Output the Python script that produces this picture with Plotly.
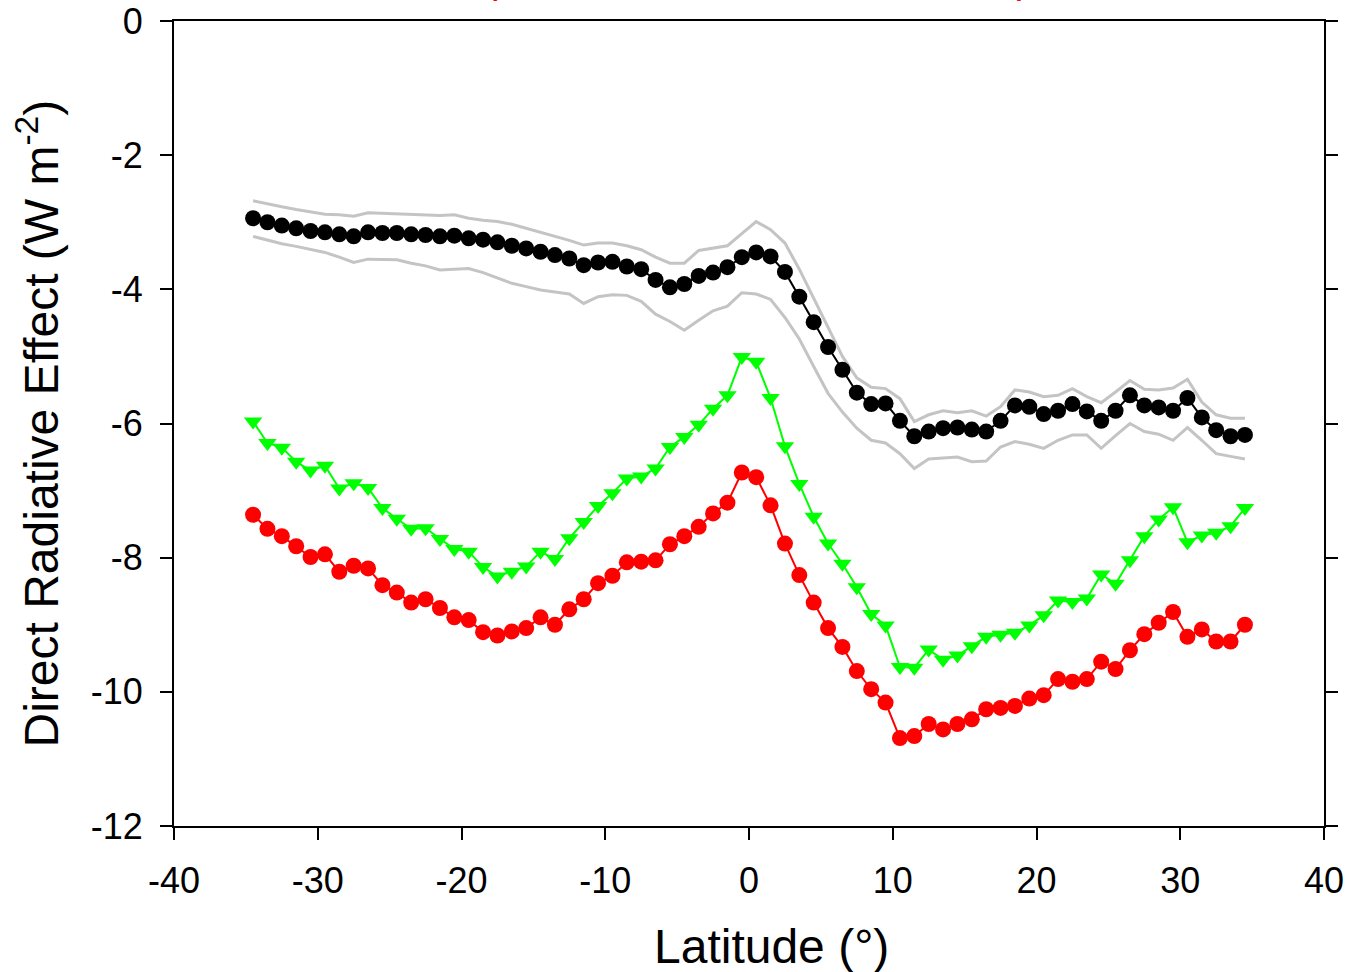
import plotly.graph_objects as go

lat = [-34.5, -33.5, -32.5, -31.5, -30.5, -29.5, -28.5, -27.5, -26.5, -25.5,
       -24.5, -23.5, -22.5, -21.5, -20.5, -19.5, -18.5, -17.5, -16.5, -15.5,
       -14.5, -13.5, -12.5, -11.5, -10.5, -9.5, -8.5, -7.5, -6.5, -5.5,
       -4.5, -3.5, -2.5, -1.5, -0.5, 0.5, 1.5, 2.5, 3.5, 4.5,
       5.5, 6.5, 7.5, 8.5, 9.5, 10.5, 11.5, 12.5, 13.5, 14.5,
       15.5, 16.5, 17.5, 18.5, 19.5, 20.5, 21.5, 22.5, 23.5, 24.5,
       25.5, 26.5, 27.5, 28.5, 29.5, 30.5, 31.5, 32.5, 33.5, 34.5]

black_mean = [-2.94, -3.00, -3.05, -3.09, -3.13, -3.15, -3.18, -3.21, -3.15, -3.16,
              -3.16, -3.18, -3.19, -3.21, -3.20, -3.24, -3.26, -3.30, -3.35, -3.39,
              -3.44, -3.49, -3.54, -3.64, -3.60, -3.59, -3.66, -3.70, -3.86, -3.97,
              -3.92, -3.80, -3.75, -3.67, -3.52, -3.45, -3.51, -3.74, -4.11, -4.49,
              -4.86, -5.20, -5.54, -5.71, -5.70, -5.96, -6.19, -6.12, -6.07, -6.06,
              -6.09, -6.12, -5.96, -5.73, -5.75, -5.86, -5.81, -5.71, -5.82, -5.96,
              -5.81, -5.58, -5.73, -5.76, -5.81, -5.62, -5.91, -6.10, -6.19, -6.17]

gray_upper = [-2.68, -2.73, -2.77, -2.81, -2.84, -2.88, -2.89, -2.91, -2.86, -2.87,
              -2.87, -2.88, -2.90, -2.90, -2.89, -2.94, -2.97, -2.99, -3.03, -3.09,
              -3.14, -3.20, -3.27, -3.34, -3.31, -3.31, -3.35, -3.41, -3.52, -3.61,
              -3.61, -3.42, -3.39, -3.35, -3.17, -2.99, -3.11, -3.31, -3.70, -4.13,
              -4.55, -5.00, -5.32, -5.46, -5.48, -5.63, -5.97, -5.87, -5.81, -5.84,
              -5.81, -5.89, -5.75, -5.50, -5.53, -5.60, -5.58, -5.48, -5.60, -5.69,
              -5.53, -5.36, -5.49, -5.50, -5.47, -5.34, -5.68, -5.87, -5.92, -5.92]

gray_lower = [-3.21, -3.27, -3.32, -3.36, -3.41, -3.45, -3.52, -3.60, -3.55, -3.55,
              -3.56, -3.61, -3.65, -3.71, -3.70, -3.69, -3.75, -3.83, -3.91, -3.96,
              -4.01, -4.04, -4.07, -4.21, -4.11, -4.08, -4.09, -4.18, -4.37, -4.48,
              -4.61, -4.46, -4.32, -4.25, -4.05, -4.07, -4.15, -4.42, -4.74, -5.15,
              -5.55, -5.83, -6.07, -6.25, -6.29, -6.45, -6.67, -6.53, -6.52, -6.50,
              -6.57, -6.56, -6.35, -6.27, -6.31, -6.37, -6.25, -6.17, -6.17, -6.37,
              -6.18, -6.00, -6.12, -6.16, -6.25, -6.06, -6.25, -6.45, -6.49, -6.53]

green_vals = [-5.97, -6.29, -6.36, -6.57, -6.70, -6.63, -6.97, -6.89, -6.96, -7.26,
              -7.42, -7.57, -7.56, -7.72, -7.87, -7.91, -8.14, -8.28, -8.21, -8.13,
              -7.91, -8.02, -7.71, -7.47, -7.23, -7.04, -6.82, -6.79, -6.67, -6.35,
              -6.20, -6.02, -5.78, -5.58, -5.01, -5.08, -5.62, -6.34, -6.90, -7.39,
              -7.79, -8.09, -8.44, -8.84, -9.01, -9.63, -9.64, -9.37, -9.52, -9.46,
              -9.32, -9.18, -9.15, -9.12, -9.01, -8.86, -8.64, -8.66, -8.61, -8.25,
              -8.39, -8.04, -7.68, -7.43, -7.25, -7.77, -7.67, -7.63, -7.53, -7.26]

red_vals = [-7.36, -7.57, -7.68, -7.83, -7.99, -7.95, -8.21, -8.12, -8.16, -8.41,
            -8.52, -8.67, -8.62, -8.75, -8.89, -8.93, -9.11, -9.16, -9.10, -9.05,
            -8.89, -9.00, -8.77, -8.62, -8.38, -8.27, -8.07, -8.06, -8.04, -7.80,
            -7.68, -7.54, -7.34, -7.18, -6.73, -6.80, -7.22, -7.79, -8.26, -8.67,
            -9.05, -9.33, -9.69, -9.96, -10.16, -10.69, -10.66, -10.48, -10.56, -10.48,
            -10.41, -10.26, -10.24, -10.21, -10.10, -10.05, -9.81, -9.85, -9.81, -9.55,
            -9.66, -9.38, -9.14, -8.97, -8.81, -9.18, -9.07, -9.25, -9.25, -9.00]

x_ticks = [-40, -30, -20, -10, 0, 10, 20, 30, 40]
x_ticktext = ["-40", "-30", "-20", "-10", "0", "10", "20", "30", "40"]
y_ticks = [0, -2, -4, -6, -8, -10, -12]
y_ticktext = ["0", "-2", "-4", "-6", "-8", "-10", "-12"]

FONT = "Liberation Sans, Arial, sans-serif"

fig = go.Figure()
fig.add_trace(go.Scatter(x=lat, y=gray_upper, mode="lines",
                         line=dict(color="#c4c4c4", width=3), showlegend=False))
fig.add_trace(go.Scatter(x=lat, y=gray_lower, mode="lines",
                         line=dict(color="#c4c4c4", width=3), showlegend=False))
fig.add_trace(go.Scatter(x=lat, y=black_mean, mode="lines+markers",
                         line=dict(color="black", width=2),
                         marker=dict(symbol="circle", size=16, color="black"),
                         showlegend=False))
fig.add_trace(go.Scatter(x=lat, y=green_vals, mode="lines+markers",
                         line=dict(color="#00ff00", width=2),
                         marker=dict(symbol="triangle-down", size=16, color="#00ff00"),
                         showlegend=False))
fig.add_trace(go.Scatter(x=lat, y=red_vals, mode="lines+markers",
                         line=dict(color="#ff0000", width=2),
                         marker=dict(symbol="circle", size=16, color="#ff0000"),
                         showlegend=False))

# red title, mostly above the top edge of the page
fig.add_annotation(text="(Mean Direct Radiative Effect)", xref="paper", yref="paper",
                   x=0.5, y=1.0105, xanchor="center", yanchor="bottom", xshift=8, yshift=9,
                   showarrow=False,
                   font=dict(family=FONT, size=41, color="#ff0000"))

# axis titles
fig.add_annotation(text="Latitude (°)", xref="paper", yref="paper",
                   x=0.5, y=0, yanchor="top", xanchor="center", xshift=22, yshift=-92,
                   showarrow=False, font=dict(family=FONT, size=48, color="black"))
fig.add_annotation(text="Direct Radiative Effect (W m<sup>-2</sup>)", xref="paper", yref="paper",
                   x=0, y=0.5, xanchor="center", yanchor="middle", xshift=-137,
                   textangle=-90, showarrow=False,
                   font=dict(family=FONT, size=48, color="black"))

fig.update_layout(
    width=1349, height=972,
    margin=dict(l=174, r=25, t=21, b=146),
    paper_bgcolor="white", plot_bgcolor="white",
    font=dict(family=FONT, color="black"),
    xaxis=dict(range=[-40, 40], tickvals=x_ticks, ticktext=x_ticktext,
               ticks="outside", ticklen=12,
               tickwidth=2, tickcolor="black", showline=True, linewidth=2,
               linecolor="black", mirror=True, showgrid=False, zeroline=False,
               automargin=False, ticklabelstandoff=10,
               tickfont=dict(size=36, family=FONT)),
    yaxis=dict(range=[-12, 0], tickvals=y_ticks, ticktext=y_ticktext,
               ticks="outside", ticklen=12,
               tickwidth=2, tickcolor="black", showline=True, linewidth=2,
               linecolor="black", mirror="ticks", showgrid=False, zeroline=False,
               automargin=False, ticklabelstandoff=10,
               tickfont=dict(size=36, family=FONT)),
)

fig.write_html("out.html")
